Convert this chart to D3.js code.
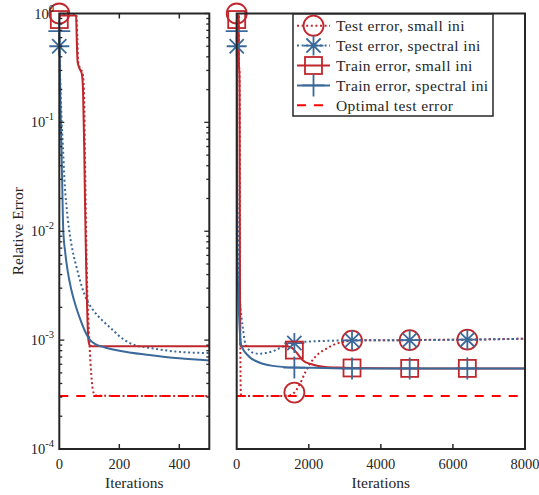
<!DOCTYPE html>
<html>
<head>
<meta charset="utf-8">
<script src="https://cdnjs.cloudflare.com/ajax/libs/d3/7.8.5/d3.min.js"></script>
<style>
  html, body { margin: 0; padding: 0; background: #fff; }
  svg { display: block; }
  text { font-family: "Liberation Serif", "Times New Roman", serif; fill: #262626; }
</style>
</head>
<body>
<svg id="chart" width="539" height="495"></svg>
<script>
// ---- data: [iteration, relative error] ----
const testSmall = [
  [0,1.0],[3,0.98],[57,0.98],[60,0.6],[63,0.36],[70,0.31],[77,0.29],[82,0.2],[85,0.07],[87,0.025],
  [90,8e-3],[93,3e-3],[97,1.5e-3],[100,1.0e-3],[104,6.2e-4],[109,4.0e-4],[114,3.3e-4],[120,3.1e-4],
  [200,3.07e-4],[1300,3.07e-4],[1450,3.1e-4],[1600,3.3e-4],[1760,4.0e-4],[1920,5.2e-4],[2080,6.4e-4],
  [2250,7.4e-4],[2450,8.2e-4],[2700,9.1e-4],[2950,9.6e-4],[3200,9.9e-4],[4000,1.0e-3],[4800,1.0e-3],
  [5600,1.01e-3],[6400,1.01e-3],[7200,1.02e-3],[8000,1.03e-3]
];
const testSpectral = [
  [0,0.5],[2,0.3],[4,0.2],[6,0.14],[8,0.1],[12,0.06],[17,0.03],[24,0.017],[33,0.0102],[45,6.5e-3],
  [60,4.4e-3],[75,3.1e-3],[93,2.3e-3],[112,1.9e-3],[140,1.55e-3],[170,1.3e-3],[213,1.02e-3],
  [246,9.1e-4],[300,8.5e-4],[400,7.8e-4],[500,7.6e-4],[600,7.5e-4],[800,7.6e-4],[1000,7.9e-4],
  [1250,8.6e-4],[1600,9.4e-4],[2000,9.7e-4],[2500,9.85e-4],[3200,9.95e-4],[4800,1.0e-3],
  [6400,1.01e-3],[8000,1.03e-3]
];
const trainSmall = [
  [0,0.88],[3,0.96],[56,0.96],[58,0.6],[61,0.36],[68,0.31],[75,0.28],[79,0.2],[83,0.06],[85,0.025],
  [88,8e-3],[91,3e-3],[94,1.5e-3],[97,1.0e-3],[101,9.0e-4],[108,8.8e-4],[1350,8.8e-4],[1500,8.6e-4],
  [1600,8.1e-4],[1700,7.4e-4],[1840,6.5e-4],[2080,6.0e-4],[2400,5.7e-4],[2800,5.6e-4],[3200,5.55e-4],
  [4800,5.5e-4],[6400,5.5e-4],[8000,5.5e-4]
];
const trainSpectral = [
  [0,0.69],[2,0.3],[4,0.14],[6,0.08],[8,0.045],[10,0.025],[13,0.0105],[20,6.3e-3],[28,4.3e-3],
  [40,2.9e-3],[55,2.05e-3],[70,1.55e-3],[85,1.22e-3],[100,1.02e-3],[120,9.2e-4],[150,8.6e-4],
  [200,8.0e-4],[300,7.3e-4],[400,6.8e-4],[500,6.5e-4],[700,6.1e-4],[1000,5.8e-4],[1600,5.6e-4],
  [2400,5.55e-4],[3200,5.5e-4],[4800,5.5e-4],[6400,5.5e-4],[8000,5.5e-4]
];
const optimalTest = [[0,3.07e-4],[8000,3.07e-4]];

const markerIters = [0, 1600, 3200, 4800, 6400];
const leftTicks = [0, 200, 400];
const rightTicks = [0, 2000, 4000, 6000, 8000];
const yDecades = [-4, -3, -2, -1, 0];
const legendLabels = ["Test error, small ini", "Test error, spectral ini", "Train error, small ini",
                      "Train error, spectral ini", "Optimal test error"];

// ---- styling ----
const RED = "#c0272d", BLUE = "#3b6a9a", OPT = "#ff0000", INK = "#262626";
const series = [
  {data: testSmall,     color: RED,  dash: "2,2.6", marker: "circle"},
  {data: testSpectral,  color: BLUE, dash: "2,2.6", marker: "star"},
  {data: trainSmall,    color: RED,  dash: null,    marker: "square"},
  {data: trainSpectral, color: BLUE, dash: null,    marker: "plus"},
  {data: optimalTest,   color: OPT,  dash: "9,8",   marker: null}
];

const svg = d3.select("#chart");
const yTop = 13.5, yBot = 449;
const y = d3.scaleLog().domain([1e-4, 1]).range([yBot, yTop]);

const panels = [
  {x0: 59.3, x1: 209.3, max: 500, ticks: leftTicks, yLabels: true},
  {x0: 236.7, x1: 525, max: 8000, ticks: rightTicks, yLabels: false}
];

function drawMarker(g, type, cx, cy, color) {
  const s = g.append("g").attr("transform", `translate(${cx},${cy})`)
    .attr("fill", "none").attr("stroke", color).attr("stroke-width", 1.8);
  if (type === "circle") s.append("circle").attr("r", 10);
  else if (type === "square") s.append("rect").attr("x", -8.5).attr("y", -8.5).attr("width", 17).attr("height", 17);
  else if (type === "plus") s.append("path").attr("d", "M-11,0H11M0,-11V11");
  else if (type === "star") {
    const a = 10, d = 7.1;
    s.append("path").attr("d", `M-${a},0H${a}M0,-${a}V${a}M-${d},-${d}L${d},${d}M-${d},${d}L${d},-${d}`);
  }
}

panels.forEach((p, i) => {
  const x = d3.scaleLinear().domain([0, p.max]).range([p.x0, p.x1]);
  const g = svg.append("g");
  const clipId = "clip" + i;
  svg.append("clipPath").attr("id", clipId).append("rect")
    .attr("x", p.x0).attr("y", yTop).attr("width", p.x1 - p.x0).attr("height", yBot - yTop);

  const line = d3.line().x(d => x(d[0])).y(d => y(d[1])).curve(d3.curveMonotoneX);
  const lines = g.append("g").attr("clip-path", `url(#${clipId})`);
  const marks = g.append("g");

  series.forEach(s => {
    const pts = s.data.filter((d, j, arr) => d[0] <= p.max || (j > 0 && arr[j - 1][0] < p.max));
    lines.append("path").datum(pts)
      .attr("d", line).attr("fill", "none").attr("stroke", s.color)
      .attr("stroke-width", 2).attr("stroke-dasharray", s.dash);
    if (s.marker) {
      s.data.filter(d => markerIters.includes(d[0]) && d[0] <= p.max)
        .forEach(d => drawMarker(marks, s.marker, x(d[0]), y(d[1]), s.color));
    }
  });

  // frame
  g.append("rect").attr("x", p.x0).attr("y", yTop).attr("width", p.x1 - p.x0).attr("height", yBot - yTop)
    .attr("fill", "none").attr("stroke", INK).attr("stroke-width", 2);

  // x ticks (inward) and labels
  p.ticks.forEach(t => {
    const xx = x(t);
    if (t > 0 && t < p.max) {
      g.append("line").attr("x1", xx).attr("x2", xx).attr("y1", yBot).attr("y2", yBot - 5)
        .attr("stroke", INK).attr("stroke-width", 1.5);
      if (p.yLabels)
        g.append("line").attr("x1", xx).attr("x2", xx).attr("y1", yTop).attr("y2", yTop + 5)
          .attr("stroke", INK).attr("stroke-width", 1.5);
    }
    g.append("text").attr("x", xx).attr("y", 469).attr("text-anchor", "middle")
      .attr("font-size", 14.5).text(t);
  });
  g.append("text").attr("x", (p.x0 + p.x1) / 2).attr("y", 488).attr("text-anchor", "middle")
    .attr("font-size", 15.5).text("Iterations");

  if (p.yLabels) {
    // log ticks, both sides, pointing inward
    yDecades.forEach(e => {
      for (let m = 1; m <= 9; m++) {
        const v = m * Math.pow(10, e);
        if (v > 1) break;
        const yy = y(v), len = m === 1 ? 5 : 3;
        g.append("line").attr("x1", p.x0).attr("x2", p.x0 + len).attr("y1", yy).attr("y2", yy)
          .attr("stroke", INK).attr("stroke-width", 1.3);
        g.append("line").attr("x1", p.x1).attr("x2", p.x1 - len).attr("y1", yy).attr("y2", yy)
          .attr("stroke", INK).attr("stroke-width", 1.3);
      }
      const lbl = g.append("text").attr("x", 54).attr("y", y(Math.pow(10, e)) + 5)
        .attr("text-anchor", "end").attr("font-size", 14.5);
      lbl.append("tspan").text("10");
      lbl.append("tspan").attr("dy", -7).attr("font-size", 10.5).text(String(e));
    });
    g.append("text").attr("transform", `translate(23,${(yTop + yBot) / 2}) rotate(-90)`)
      .attr("text-anchor", "middle").attr("font-size", 15.5).text("Relative Error");
  }
});

// legend
const lg = svg.append("g");
lg.append("rect").attr("x", 293).attr("y", 14).attr("width", 200).attr("height", 102)
  .attr("fill", "#fff").attr("stroke", INK).attr("stroke-width", 1.5);
series.forEach((s, i) => {
  const yy = 25.7 + i * 19.9;
  lg.append("line").attr("x1", 297).attr("x2", 330).attr("y1", yy).attr("y2", yy)
    .attr("stroke", s.color).attr("stroke-width", 2).attr("stroke-dasharray", s.dash);
  if (s.marker) drawMarker(lg, s.marker, 313.5, yy, s.color);
  lg.append("text").attr("x", 336).attr("y", yy + 5.5).attr("font-size", 15.5)
    .attr("letter-spacing", 0.4).text(legendLabels[i]);
});
</script>
</body>
</html>
